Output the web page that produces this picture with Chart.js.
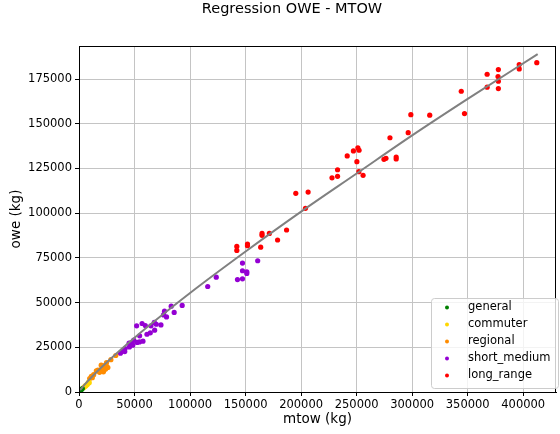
<!DOCTYPE html>
<html>
<head>
<meta charset="utf-8">
<script src="https://cdn.jsdelivr.net/npm/chart.js@4.4.1/dist/chart.umd.min.js"></script>
<style>
  html, body { margin: 0; padding: 0; background: #fff; }
</style>
</head>
<body>
<canvas id="chart" width="560" height="434"></canvas>
<script>
// categories and colours
const categories = ['general', 'commuter', 'regional', 'short_medium', 'long_range'];
const colors = ['#008000', '#ffd700', '#ff8c00', '#9400d3', '#ff0000'];

// (kg)
const generalMtow = [1200, 1700, 2300, 3000];
const generalOwe = [800, 1100, 1500, 1900];

const commuterMtow = [4000, 5000, 5500, 6000, 6600, 7500, 8100, 8700, 9200];
const commuterOwe = [2400, 2900, 3500, 3300, 3800, 4200, 5000, 5500, 5200];

const regionalMtow = [9600, 11100, 12000, 13200, 15600, 17000, 18500, 20000, 20000, 21500, 22000, 22400, 23600, 24000, 24800, 25000, 26000, 28700, 33100];
const regionalOwe = [7500, 8800, 8000, 9700, 11800, 12200, 11000, 15000, 12500, 13700, 11300, 12200, 15000, 12800, 16500, 14400, 13700, 18100, 20400];

const shortMediumMtow = [37300, 39100, 41200, 41500, 45100, 45400, 47500, 48400, 49300, 51900, 52300, 54400, 54600, 56800, 57600, 59700, 61200, 64200, 64800, 67800, 68100, 69600, 73800, 76100, 77000, 78800, 83000, 85700, 92900, 115900, 123600, 142700, 147200, 147200, 147200, 151100, 151100, 160900];
const shortMediumOwe = [21700, 23000, 22600, 24300, 27400, 25200, 27700, 26200, 29000, 37000, 27700, 28000, 31400, 38300, 28400, 37200, 32300, 33100, 37000, 38900, 34600, 37900, 37500, 43100, 45200, 42000, 48000, 44500, 48400, 59000, 64200, 62900, 72100, 67800, 63300, 67200, 66300, 73400];

const longRangeMtow = [142100, 142100, 151700, 151700, 163600, 164800, 164800, 171400, 178800, 186900, 195200, 203900, 206300, 227800, 232800, 232800, 241500, 247100, 251100, 252200, 250200, 252000, 255800, 274600, 276400, 280000, 285600, 285600, 296400, 298800, 315800, 344200, 347100, 367500, 367500, 377600, 377300, 377600, 377600, 396400, 396400, 412200];
const longRangeOwe = [81400, 79200, 82700, 81800, 81000, 88700, 87600, 88700, 85000, 90600, 111100, 102700, 111800, 119800, 124300, 120600, 132000, 134800, 136600, 135200, 128800, 123200, 121200, 130100, 130700, 142200, 131400, 130300, 145000, 155100, 154800, 168200, 155700, 177700, 170500, 180300, 176400, 173800, 169700, 183100, 180700, 184200];

// regression curve, points
const regMtow = [1000, 5000, 20000, 50000, 100000, 150000, 200000, 250000, 300000, 350000, 413000];
const regOwe = [1000, 4100, 13700, 30400, 55400, 78600, 100900, 122200, 143500, 163900, 189000];

const xTicks = [0, 50000, 100000, 150000, 200000, 250000, 300000, 350000, 400000];
const yTicks = [0, 25000, 50000, 75000, 100000, 125000, 150000, 175000];

const zip = (xs, ys) => xs.map((x, i) => ({ x: x, y: ys[i] }));
const series = [
    zip(generalMtow, generalOwe),
    zip(commuterMtow, commuterOwe),
    zip(regionalMtow, regionalOwe),
    zip(shortMediumMtow, shortMediumOwe),
    zip(longRangeMtow, longRangeOwe)
];

const font = 'DejaVu Sans';

// title, box around the axes and legend inside the plot
const extras = {
    id: 'extras',
    afterDraw(chart) {
        const ctx = chart.ctx;
        const a = chart.chartArea;
        ctx.save();
        ctx.strokeStyle = '#000';
        ctx.lineWidth = 1;
        ctx.strokeRect(a.left + 0.5, a.top + 0.5, a.right - a.left - 1, a.bottom - a.top);

        ctx.fillStyle = '#000';
        ctx.font = '14.5px "' + font + '"';
        ctx.textAlign = 'center';
        ctx.textBaseline = 'middle';
        ctx.fillText('Regression OWE - MTOW', 292, 9);

        // legend
        const bx = 431, by = 298, bw = 127, bh = 90;
        ctx.beginPath();
        ctx.roundRect(bx + 0.5, by + 0.5, bw, bh, 3);
        ctx.fillStyle = 'rgba(255,255,255,0.8)';
        ctx.fill();
        ctx.strokeStyle = '#cccccc';
        ctx.stroke();
        ctx.font = '11.5px "' + font + '"';
        ctx.textAlign = 'left';
        categories.forEach((c, i) => {
            const y = by + 9.5 + i * 17;
            ctx.beginPath();
            ctx.arc(bx + 16, y, 2, 0, Math.PI * 2);
            ctx.fillStyle = colors[i];
            ctx.fill();
            ctx.fillStyle = '#000';
            ctx.fillText(c, bx + 37, y);
        });
        ctx.restore();
    }
};

const datasets = [{
    label: 'regression',
    data: zip(regMtow, regOwe),
    showLine: true,
    borderColor: '#808080',
    borderWidth: 2,
    pointRadius: 0,
    cubicInterpolationMode: 'monotone',
    fill: false
}];
categories.forEach((c, i) => {
    datasets.push({
        label: c,
        data: series[i],
        backgroundColor: colors[i],
        borderWidth: 0,
        pointRadius: 2.6
    });
});

new Chart(document.getElementById('chart'), {
    type: 'scatter',
    data: { datasets: datasets },
    options: {
        responsive: false,
        animation: false,
        layout: { padding: { top: 46, right: 1, left: 0, bottom: 0 } },
        plugins: {
            legend: { display: false },
            tooltip: { enabled: false }
        },
        scales: {
            x: {
                type: 'linear',
                min: 0,
                max: 429500,
                afterFit: s => { s.height = 42; },
                afterBuildTicks: s => { s.ticks = xTicks.map(v => ({ value: v })); },
                ticks: {
                    color: '#000',
                    font: { family: font, size: 11.5 },
                    padding: 2,
                    maxRotation: 0,
                    callback: v => String(v)
                },
                grid: { color: '#c4c4c4', tickColor: '#000', tickLength: 4 },
                border: { color: '#000' },
                title: {
                    display: true,
                    text: 'mtow (kg)',
                    color: '#000',
                    font: { family: font, size: 13.5 },
                    padding: { top: 0, bottom: 6 }
                }
            },
            y: {
                type: 'linear',
                min: 0,
                max: 193500,
                afterFit: s => { s.width = 79; },
                afterBuildTicks: s => { s.ticks = yTicks.map(v => ({ value: v })); },
                ticks: {
                    color: '#000',
                    font: { family: font, size: 11.5 },
                    padding: 3,
                    callback: v => String(v)
                },
                grid: { color: '#c4c4c4', tickColor: '#000', tickLength: 4 },
                border: { color: '#000' },
                title: {
                    display: true,
                    text: 'owe (kg)',
                    color: '#000',
                    font: { family: font, size: 13.5 },
                    padding: { top: 8, bottom: 0 }
                }
            }
        }
    },
    plugins: [extras]
});
</script>
</body>
</html>
